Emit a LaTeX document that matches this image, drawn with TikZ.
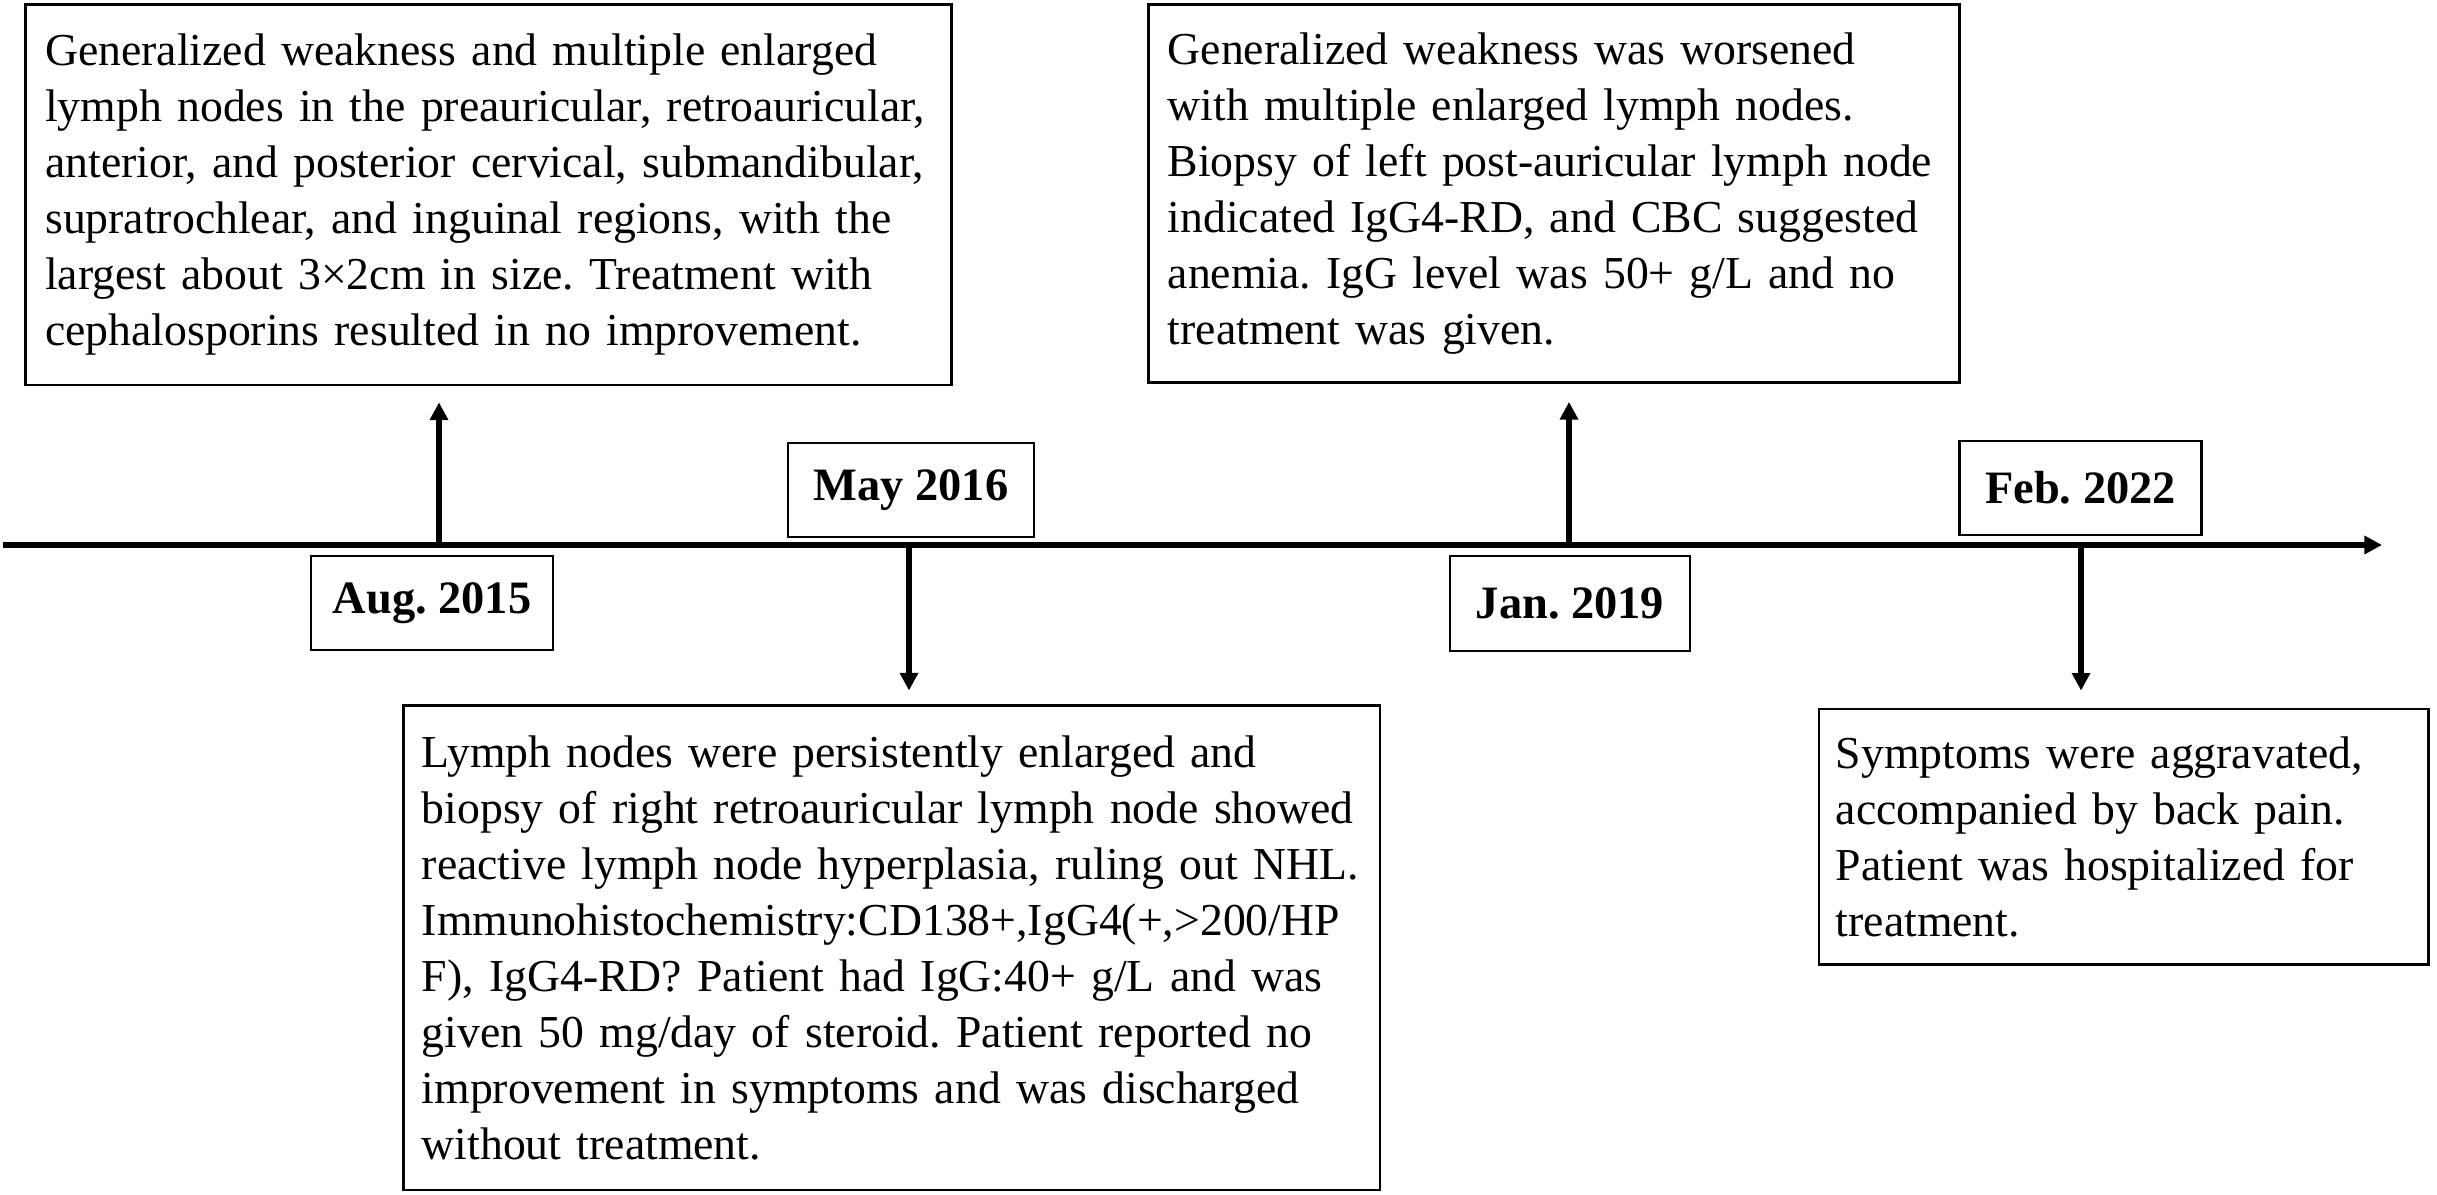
\documentclass[tikz,border=0pt]{standalone}
\usepackage{fontspec}
\setmainfont{Liberation Serif}
\usetikzlibrary{arrows.meta}
\frenchspacing
\begin{document}
\begin{tikzpicture}[x=0.01cm,y=-0.01cm,
  evbox/.style={draw, line width=0.75pt, inner sep=0pt, align=left,
    font=\frenchspacing\fontsize{13}{15.93}\selectfont},
  datebox/.style={draw, line width=0.75pt, inner sep=0pt,
    minimum width=2.42cm, minimum height=0.94cm,
    font=\bfseries\fontsize{13.2}{15}\selectfont},
  tl/.style={line width=1.7pt, -{Triangle[length=5pt,width=5pt]}},
  conn/.style={line width=1.7pt, -{Triangle[length=5pt,width=5pt]}}]
\useasboundingbox (0,0) rectangle (2437,1195);

% timeline
\coordinate (t0) at (3,545);
\coordinate (t1) at (2382,545);
\draw[tl] (t0) -- (t1);

% event boxes
\node[evbox, minimum width=9.26cm, minimum height=3.805cm, text width=8.86cm] (ev1) at (488.5,194.75)
{Generalized weakness and multiple enlarged\\
lymph nodes in the preauricular, retroauricular,\\
anterior, and posterior cervical, submandibular,\\
supratrochlear, and inguinal regions, with the\\
largest about 3×2cm in size. Treatment with\\
cephalosporins resulted in no improvement.};

\node[evbox, minimum width=8.11cm, minimum height=3.78cm, text width=7.72cm] (ev3) at (1554,193.5)
{Generalized weakness was worsened\\
with multiple enlarged lymph nodes.\\
Biopsy of left post-auricular lymph node\\
indicated IgG4-RD, and CBC suggested\\
anemia. IgG level was 50+ g/L and no\\
treatment was given.};

\node[evbox, minimum width=9.76cm, minimum height=4.842cm, text width=9.39cm] (ev2) at (891.6,947.7)
{Lymph nodes were persistently enlarged and\\
biopsy of right retroauricular lymph node showed\\
reactive lymph node hyperplasia, ruling out NHL.\\
Immunohistochemistry:CD138+,IgG4(+,>200/HP\\
F), IgG4-RD? Patient had IgG:40+ g/L and was\\
given 50 mg/day of steroid. Patient reported no\\
improvement in symptoms and was discharged\\
without treatment.};

\node[evbox, minimum width=6.09cm, minimum height=2.556cm, text width=5.75cm] (ev4) at (2123.5,836.8)
{Symptoms were aggravated,\\
accompanied by back pain.\\
Patient was hospitalized for\\
treatment.};

% date boxes
\node[datebox] (d1) at (432,603) {Aug. 2015};
\node[datebox, minimum width=2.46cm] (d2) at (911,490) {May 2016};
\node[datebox, minimum width=2.40cm, minimum height=0.95cm] (d3) at (1570,603.5) {Jan. 2019};
\node[datebox] (d4) at (2080.5,488) {Feb. 2022};

% connectors
\coordinate (a1) at (439,545);
\coordinate (a2) at (909,545);
\coordinate (a3) at (1569,545);
\coordinate (a4) at (2081,545);
\draw[conn, shorten >=0.16cm] (a1) -- (a1 |- ev1.south);
\draw[conn, shorten >=0.136cm] (a2) -- (a2 |- ev2.north);
\draw[conn, shorten >=0.18cm] (a3) -- (a3 |- ev3.south);
\draw[conn, shorten >=0.17cm] (a4) -- (a4 |- ev4.north);
\end{tikzpicture}
\end{document}
